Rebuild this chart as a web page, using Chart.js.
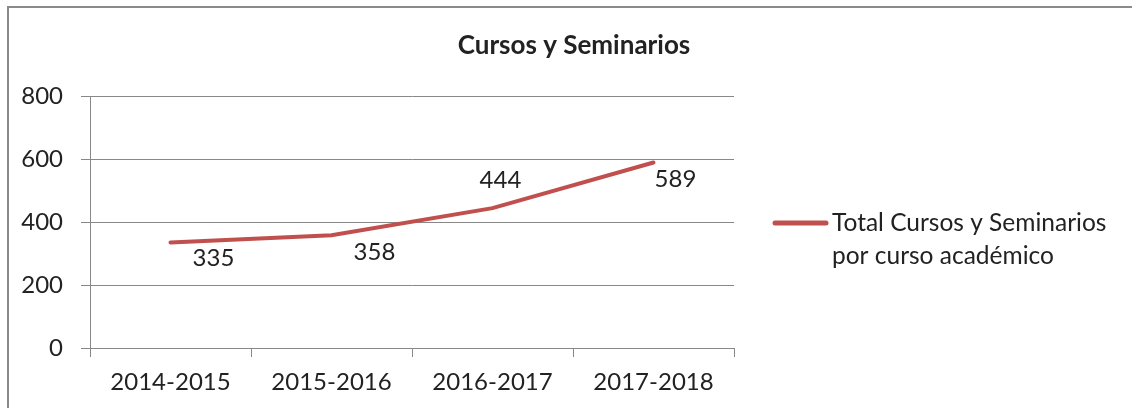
<!DOCTYPE html>
<html>
<head>
<meta charset="utf-8">
<script src="https://cdn.jsdelivr.net/npm/chart.js@4/dist/chart.umd.min.js"></script>
<style>
html,body{margin:0;padding:0;background:#fff;}
canvas{display:block;}
</style>
</head>
<body>
<canvas id="c" width="1132" height="408"></canvas>
<script>
const categories = ["2014-2015", "2015-2016", "2016-2017", "2017-2018"];
const totals = [335, 358, 444, 589];
const yTicks = [0, 200, 400, 600, 800];
const chartTitle = "Cursos y Seminarios";
const seriesName = ["Total Cursos y Seminarios", "por curso académico"];
// label offsets (px) relative to each point, as placed in the original
const labelOffsets = [[43, 16], [43, 17], [8, -28], [22, 17]];

const FONT = "Lato, 'Open Sans', sans-serif";
const TEXT = "#222";
const GRID = "#888";
const RED = "#C0504D";
const FS = 24;

const frame = {
  id: 'frame',
  beforeDraw(chart) {
    const ctx = chart.ctx;
    ctx.save();
    ctx.fillStyle = '#fff';
    ctx.fillRect(0, 0, chart.width, chart.height);
    ctx.strokeStyle = '#8a8a8a';
    ctx.lineWidth = 2;
    ctx.beginPath();
    ctx.moveTo(8, chart.height);
    ctx.lineTo(8, 7);
    ctx.lineTo(chart.width, 7);
    ctx.stroke();
    ctx.restore();
  }
};

const extras = {
  id: 'extras',
  afterDatasetsDraw(chart) {
    const ctx = chart.ctx;
    const meta = chart.getDatasetMeta(0);
    ctx.save();
    ctx.fillStyle = TEXT;
    ctx.font = FS + "px " + FONT;
    ctx.textAlign = 'center';
    ctx.textBaseline = 'middle';
    meta.data.forEach((pt, i) => {
      const o = labelOffsets[i];
      ctx.fillText(String(totals[i]), pt.x + o[0], pt.y + o[1]);
    });
    // title
    ctx.font = "bold 26px " + FONT;
    ctx.fillText(chartTitle, 574, 46);
    // legend
    const ca = chart.chartArea;
    const lx = ca.right + 39, ly = 223;
    ctx.strokeStyle = RED;
    ctx.lineWidth = 5;
    ctx.lineCap = 'round';
    ctx.beginPath();
    ctx.moveTo(lx + 2, ly);
    ctx.lineTo(lx + 53, ly);
    ctx.stroke();
    ctx.font = "24.5px " + FONT;
    ctx.textAlign = 'left';
    ctx.fillText(seriesName[0], lx + 59, 223);
    ctx.fillText(seriesName[1], lx + 59, 256);
    ctx.restore();
  }
};

new Chart(document.getElementById('c'), {
  type: 'line',
  data: {
    labels: categories,
    datasets: [{
      label: seriesName.join(' '),
      data: totals,
      borderColor: RED,
      backgroundColor: RED,
      borderWidth: 4,
      borderCapStyle: 'round',
      pointRadius: 0,
      tension: 0,
      fill: false
    }]
  },
  options: {
    responsive: false,
    devicePixelRatio: 1,
    animation: false,
    layout: { padding: { top: 96, right: 398, bottom: 0, left: 0 } },
    plugins: {
      legend: { display: false },
      title: { display: false },
      tooltip: { enabled: false }
    },
    scales: {
      x: {
        offset: true,
        grid: { offset: true, drawOnChartArea: false, color: GRID, tickLength: 9, tickColor: GRID },
        border: { color: GRID, width: 1 },
        ticks: { color: TEXT, font: { family: FONT, size: FS }, padding: 11, maxRotation: 0 },
        afterFit(s) { s.height = 60; }
      },
      y: {
        min: 0, max: 800,
        afterBuildTicks(s) { s.ticks = yTicks.map(v => ({ value: v })); },
        grid: { color: GRID, tickLength: 9, tickColor: GRID },
        border: { color: GRID, width: 1 },
        ticks: { color: TEXT, font: { family: FONT, size: FS }, padding: 18 },
        afterFit(s) { s.width = 90; }
      }
    }
  },
  plugins: [frame, extras]
});
</script>
</body>
</html>
